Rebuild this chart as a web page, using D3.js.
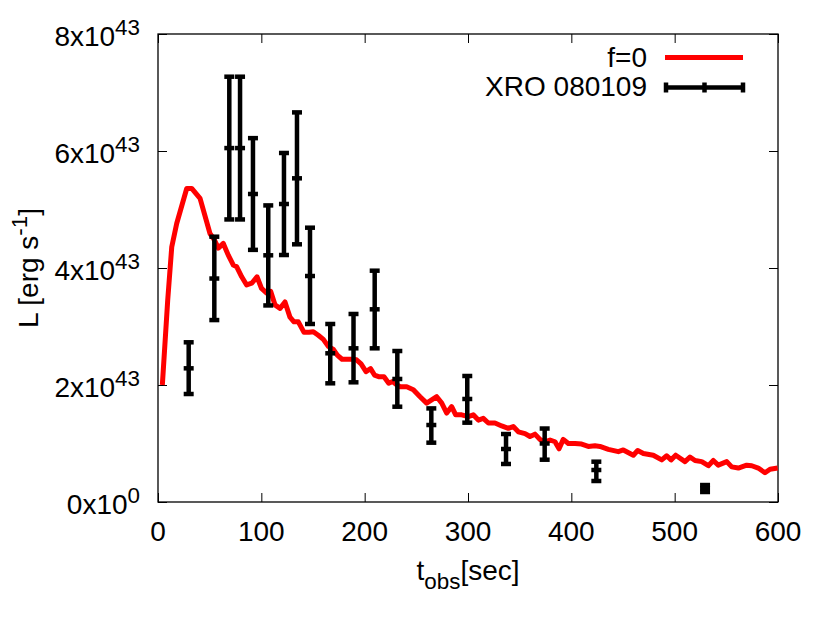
<!DOCTYPE html>
<html>
<head>
<meta charset="utf-8">
<script src="https://cdn.jsdelivr.net/npm/d3@7"></script>
<style>
    body { margin: 0; background: #fff; }
    text { font-family: "Liberation Sans", Arial, Helvetica, sans-serif; fill: #000; }
</style>
</head>
<body>
<div id="chart"></div>
<script>

// model light curve, f=0  (L in units of 1e43 erg/s)
const modelT = [4.2, 9.4, 13.3, 18.1, 27.8, 32.6, 40.7, 50.3, 54.5, 58.4, 63.2, 68.0, 72.9, 76.2, 81.0,
    85.8, 90.7, 95.8, 100.2, 105.2, 109.1, 113.2, 118.1, 122.9, 127.7, 131.6, 135.8, 141.3, 146.1, 150.3,
    155.1, 160.0, 164.8, 169.7, 173.5, 178.1, 182.9, 187.7, 192.1, 196.5, 201.3, 205.7, 209.5, 214.2,
    218.7, 223.3, 227.1, 231.3, 234.2, 240.7, 247.1, 253.6, 260.0, 269.7, 274.6, 279.4, 284.2, 288.1,
    293.9, 300.3, 305.1, 310.0, 314.8, 319.7, 326.1, 332.6, 339.0, 343.8, 348.7, 355.2, 360.0, 364.8,
    369.7, 374.5, 379.4, 384.2, 388.1, 392.2, 397.1, 403.6, 410.0, 416.4, 422.9, 427.7, 435.8, 445.5,
    450.3, 460.0, 464.2, 469.7, 479.3, 487.5, 492.3, 496.5, 501.0, 510.0, 514.8, 519.7, 526.2, 532.6,
    537.4, 542.2, 550.4, 555.2, 561.6, 569.7, 574.6, 580.9, 587.4, 592.3, 599.7];
const modelL = [2.00, 3.45, 4.36, 4.76, 5.36, 5.36, 5.19, 4.59, 4.48, 4.34, 4.42, 4.22, 4.05, 4.02, 3.85,
    3.71, 3.74, 3.85, 3.65, 3.57, 3.60, 3.37, 3.31, 3.42, 3.16, 3.08, 3.08, 2.90, 2.90, 2.91,
    2.85, 2.78, 2.66, 2.61, 2.51, 2.44, 2.44, 2.44, 2.43, 2.36, 2.23, 2.28, 2.17, 2.14,
    2.14, 2.03, 2.06, 2.00, 1.97, 1.97, 1.92, 1.80, 1.69, 1.80, 1.69, 1.52, 1.63, 1.49,
    1.49, 1.46, 1.49, 1.40, 1.43, 1.35, 1.35, 1.30, 1.26, 1.29, 1.20, 1.17, 1.12, 1.16,
    1.07, 1.03, 1.06, 1.03, 0.91, 1.07, 1.00, 1.00, 0.99, 0.95, 0.96, 0.95, 0.90, 0.86,
    0.89, 0.80, 0.88, 0.83, 0.80, 0.72, 0.79, 0.72, 0.80, 0.69, 0.77, 0.71, 0.69, 0.62,
    0.71, 0.63, 0.69, 0.60, 0.58, 0.63, 0.62, 0.58, 0.50, 0.56, 0.58];

// XRO 080109 observations (L in units of 1e43 erg/s)
const obsT  = [29.7, 54.5, 69.0, 79.4, 91.9, 106.7, 121.9, 134.5, 147.1, 166.7, 189.2, 209.7, 231.6, 264.5, 299.3, 336.8, 374.2, 424.2, 529.4];
const obsL  = [2.285, 3.82, 6.05, 6.05, 5.265, 4.217, 5.094, 5.533, 3.863, 2.542, 2.627, 3.294, 2.103, 1.316, 1.761, 0.906, 1.00, 0.547, 0.234];
const obsLo = [1.846, 3.11, 4.83, 4.83, 4.31, 3.36, 4.222, 4.405, 3.043, 2.029, 2.046, 2.627, 1.629, 1.014, 1.356, 0.650, 0.723, 0.359, 0.171];
const obsHi = [2.73, 4.535, 7.27, 7.27, 6.22, 5.07, 5.966, 6.66, 4.689, 3.043, 3.214, 3.954, 2.581, 1.60, 2.154, 1.162, 1.256, 0.689, 0.29];

// axes
const xTicks = [0, 100, 200, 300, 400, 500, 600];
const yTicks = [0, 2, 4, 6, 8];
const yTickMant = ["0", "2", "4", "6", "8"];
const yTickExp = ["0", "43", "43", "43", "43"];

const seriesNames = ["f=0", "XRO 080109"];

// margin conventions
const margin = {top: 34, right: 52, bottom: 121, left: 158};
const W = 830, H = 623;
const width = W - margin.left - margin.right;
const height = H - margin.top - margin.bottom;
const fontSize = 28;

const svg = d3.select("#chart").append("svg")
    .attr("width", W)
    .attr("height", H);

const g = svg.append("g")
    .attr("transform", "translate(" + margin.left + "," + margin.top + ")");

const x = d3.scaleLinear().domain([0, 600]).range([0, width]);
const y = d3.scaleLinear().domain([0, 8]).range([height, 0]);

// ticks on all four sides, pointing inwards
const tickLen = 9;
function styleAxis(sel) {
    sel.select(".domain").remove();
    sel.selectAll(".tick line").attr("stroke", "#000").attr("stroke-width", 1);
}

g.append("g").attr("transform", "translate(0," + height + ")")
    .call(d3.axisBottom(x).tickValues(xTicks).tickSize(-tickLen).tickFormat(""))
    .call(styleAxis);
g.append("g")
    .call(d3.axisTop(x).tickValues(xTicks).tickSize(-tickLen).tickFormat(""))
    .call(styleAxis);
g.append("g")
    .call(d3.axisLeft(y).tickValues(yTicks).tickSize(-tickLen).tickFormat(""))
    .call(styleAxis);
g.append("g").attr("transform", "translate(" + width + ",0)")
    .call(d3.axisRight(y).tickValues(yTicks).tickSize(-tickLen).tickFormat(""))
    .call(styleAxis);

// x tick labels
g.selectAll(".xlab")
    .data(xTicks)
    .enter().append("text")
    .attr("class", "xlab")
    .attr("x", d => x(d))
    .attr("y", height + 39)
    .attr("text-anchor", "middle")
    .attr("font-size", fontSize)
    .text(d => d);

// y tick labels  (mantissa x 10^exp)
const ylab = g.selectAll(".ylab")
    .data(yTicks)
    .enter().append("text")
    .attr("class", "ylab")
    .attr("x", -18)
    .attr("y", d => y(d) + 12)
    .attr("text-anchor", "end")
    .attr("font-size", fontSize);
ylab.append("tspan").text((d, i) => yTickMant[i] + "x10");
ylab.append("tspan")
    .attr("dy", -11)
    .attr("font-size", fontSize * 0.8)
    .text((d, i) => yTickExp[i]);

// frame
g.append("rect")
    .attr("width", width)
    .attr("height", height)
    .attr("fill", "none")
    .attr("stroke", "#000")
    .attr("stroke-width", 1.3);

// axis titles
const xt = svg.append("text")
    .attr("x", margin.left + width / 2)
    .attr("y", 580)
    .attr("text-anchor", "middle")
    .attr("font-size", fontSize);
xt.append("tspan").text("t");
xt.append("tspan").attr("dy", 9).attr("font-size", fontSize * 0.8).text("obs");
xt.append("tspan").attr("dy", -9).text("[sec]");

const yt = svg.append("text")
    .attr("transform", "translate(38," + (margin.top + height / 2) + ") rotate(-90)")
    .attr("text-anchor", "middle")
    .attr("font-size", fontSize);
yt.append("tspan").text("L [erg s");
yt.append("tspan").attr("dy", -11).attr("font-size", fontSize * 0.8).text("-1");
yt.append("tspan").attr("dy", 11).text("]");

// ---- MODEL CURVE ----
const model = modelT.map((t, i) => ({t: t, L: modelL[i]}));
const line = d3.line().x(d => x(d.t)).y(d => y(d.L));

g.append("path")
    .datum(model)
    .attr("d", line)
    .attr("fill", "none")
    .attr("stroke", "#ff0000")
    .attr("stroke-width", 5)
    .attr("stroke-linejoin", "round");

// ---- ERROR BARS ----
const obs = obsT.map((t, i) => ({t: t, L: obsL[i], lo: obsLo[i], hi: obsHi[i]}));
const capW = 5;
const eb = g.selectAll(".eb")
    .data(obs)
    .enter().append("g")
    .attr("class", "eb")
    .attr("stroke", "#000")
    .attr("stroke-width", 4.5);

eb.append("line")
    .attr("x1", d => x(d.t)).attr("x2", d => x(d.t))
    .attr("y1", d => y(d.lo)).attr("y2", d => y(d.hi));
["lo", "L", "hi"].forEach(k => {
    eb.append("line")
        .attr("x1", d => x(d.t) - capW).attr("x2", d => x(d.t) + capW)
        .attr("y1", d => y(d[k])).attr("y2", d => y(d[k]));
});

// ---- LEGEND ----
const leg = svg.append("g");
leg.append("text")
    .attr("x", 647).attr("y", 67)
    .attr("text-anchor", "end")
    .attr("font-size", fontSize)
    .text(seriesNames[0]);
leg.append("line")
    .attr("x1", 665).attr("x2", 743)
    .attr("y1", 57.5).attr("y2", 57.5)
    .attr("stroke", "#ff0000")
    .attr("stroke-width", 5);

leg.append("text")
    .attr("x", 647).attr("y", 96)
    .attr("text-anchor", "end")
    .attr("font-size", fontSize)
    .text(seriesNames[1]);
const lg2 = leg.append("g").attr("stroke", "#000").attr("stroke-width", 4.5);
lg2.append("line").attr("x1", 664).attr("x2", 745).attr("y1", 87.5).attr("y2", 87.5);
[666, 704.5, 743].forEach(px => {
    lg2.append("line").attr("x1", px).attr("x2", px).attr("y1", 82.5).attr("y2", 92.5);
});

</script>
</body>
</html>
